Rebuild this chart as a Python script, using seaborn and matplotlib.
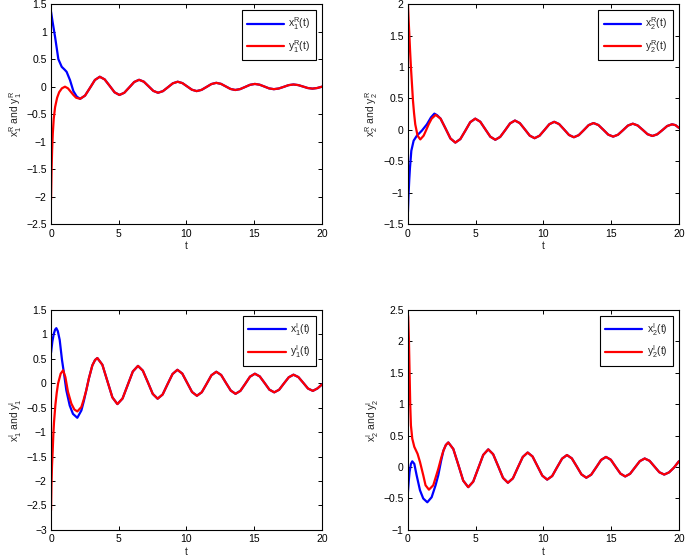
import matplotlib
matplotlib.use('Agg')
import matplotlib.pyplot as plt
import seaborn as sns
from matplotlib.ticker import FuncFormatter, MultipleLocator

# ---- panel 1: x1R / y1R ----
t_x1R = [0, 0.1, 0.3, 0.54, 0.79, 1.0, 1.15, 1.4, 1.65, 1.9]
x1R = [1.36, 1.2, 0.9, 0.5, 0.36, 0.31, 0.27, 0.12, -0.08, -0.18]
t_y1R = [0, 0.04, 0.08, 0.13, 0.2, 0.3, 0.45, 0.6, 0.8, 1.03, 1.25, 1.45, 1.65, 1.85]
y1R = [-2.05, -1.5, -1.15, -0.85, -0.58, -0.37, -0.2, -0.1, -0.03, 0.0, -0.03, -0.09, -0.15, -0.2]
t_tail1 = [2.15, 2.51, 2.88, 3.24, 3.6, 3.96, 4.33, 4.69, 5.05, 5.41, 5.78, 6.14,
           6.5, 6.85, 7.2, 7.55, 7.9, 8.26, 8.63, 8.99, 9.35, 9.7, 10.05, 10.4,
           10.75, 11.11, 11.48, 11.84, 12.2, 12.55, 12.9, 13.25, 13.6, 13.96, 14.33, 14.69,
           15.05, 15.4, 15.75, 16.1, 16.45, 16.81, 17.18, 17.54, 17.9, 18.25, 18.6, 18.95,
           19.3, 19.65, 20.0]
tail1 = [-0.22, -0.162, -0.02, 0.122, 0.18, 0.132, 0.015, -0.102, -0.15, -0.11, -0.012, 0.085,
         0.125, 0.091, 0.008, -0.076, -0.11, -0.081, -0.01, 0.061, 0.09, 0.065, 0.005, -0.055,
         -0.08, -0.058, -0.005, 0.048, 0.07, 0.051, 0.005, -0.041, -0.06, -0.044, -0.005, 0.034,
         0.05, 0.036, 0.003, -0.031, -0.045, -0.033, -0.003, 0.028, 0.04, 0.029, 0.003, -0.024,
         -0.035, -0.024, 0.0]

# ---- panel 2: x2R / y2R ----
t_x2R = [0, 0.05, 0.1, 0.15, 0.25, 0.42, 0.66, 1.03, 1.4, 1.7, 1.95, 2.15]
x2R = [-1.3, -1.0, -0.78, -0.6, -0.33, -0.17, -0.09, -0.01, 0.09, 0.2, 0.26, 0.235]
t_y2R = [0, 0.05, 0.1, 0.16, 0.22, 0.3, 0.37, 0.45, 0.54, 0.71, 0.91, 1.16, 1.35, 1.53, 1.75, 2.05]
y2R = [2.0, 1.75, 1.53, 1.25, 1.0, 0.72, 0.47, 0.27, 0.09, -0.09, -0.15, -0.09, 0.0, 0.09, 0.18, 0.24]
t_tail2 = [2.41, 2.78, 3.14, 3.5, 3.87, 4.24, 4.6, 4.97, 5.34, 5.71, 6.08,
           6.45, 6.81, 7.18, 7.54, 7.9, 8.26, 8.63, 8.99, 9.35, 9.71, 10.08, 10.44,
           10.8, 11.16, 11.53, 11.89, 12.25, 12.61, 12.98, 13.34, 13.7, 14.06, 14.43, 14.79,
           15.15, 15.51, 15.88, 16.24, 16.6, 16.96, 17.33, 17.69, 18.05, 18.41, 18.78, 19.14,
           19.5, 19.75, 20.0]
tail2 = [0.18, 0.022, -0.135, -0.2, -0.144, -0.01, 0.124, 0.18, 0.131, 0.012, -0.106,
         -0.155, -0.11, -0.003, 0.105, 0.15, 0.109, 0.01, -0.089, -0.13, -0.092, 0.0, 0.092,
         0.13, 0.094, 0.008, -0.079, -0.115, -0.082, -0.003, 0.077, 0.11, 0.079, 0.003, -0.074,
         -0.105, -0.075, -0.003, 0.07, 0.1, 0.072, 0.003, -0.067, -0.095, -0.068, -0.003, 0.063,
         0.09, 0.077, 0.035]

# ---- panel 3: x1I / y1I ----
t_x1I = [0, 0.1, 0.2, 0.3, 0.39, 0.5, 0.64, 0.81, 0.96, 1.13, 1.38, 1.62, 1.94, 2.24, 2.42]
x1I = [0.62, 0.85, 1.0, 1.09, 1.12, 1.06, 0.88, 0.47, 0.19, -0.15, -0.46, -0.63, -0.71, -0.56, -0.37]
t_y1I = [0, 0.03, 0.07, 0.12, 0.17, 0.22, 0.32, 0.42, 0.52, 0.71, 0.89, 1.06, 1.25, 1.5, 1.72, 1.94, 2.24, 2.42]
y1I = [-2.6, -2.1, -1.7, -1.4, -1.05, -0.8, -0.45, -0.2, -0.01, 0.19, 0.26, 0.12, -0.18, -0.42, -0.54, -0.58, -0.49, -0.33]
t_tail3 = [2.6, 2.8, 3.05, 3.25, 3.42, 3.79, 4.16, 4.53, 4.9, 5.28, 5.66, 6.04,
           6.42, 6.78, 7.15, 7.51, 7.87, 8.24, 8.6, 8.97, 9.33, 9.69, 10.05, 10.41,
           10.77, 11.13, 11.49, 11.84, 12.2, 12.56, 12.91, 13.27, 13.62, 13.98, 14.34, 14.69,
           15.05, 15.41, 15.77, 16.12, 16.48, 16.84, 17.19, 17.55, 17.9, 18.26, 18.62, 18.97,
           19.33, 19.67, 20.0]
tail3 = [-0.15, 0.1, 0.36, 0.47, 0.51, 0.373, 0.04, -0.293, -0.43, -0.316, -0.04, 0.236,
         0.35, 0.252, 0.015, -0.222, -0.32, -0.234, -0.025, 0.184, 0.27, 0.193, 0.005, -0.183,
         -0.26, -0.188, -0.015, 0.158, 0.23, 0.164, 0.005, -0.154, -0.22, -0.16, -0.015, 0.13,
         0.19, 0.135, 0.0, -0.135, -0.19, -0.137, -0.01, 0.117, 0.17, 0.122, 0.005, -0.112,
         -0.16, -0.11, -0.03]

# ---- panel 4: x2I / y2I ----
t_x2I = [0, 0.06, 0.12, 0.22, 0.32, 0.47, 0.64, 0.89, 1.13, 1.43, 1.75, 2.04, 2.24, 2.45]
x2I = [-0.4, -0.22, -0.08, 0.05, 0.09, 0.05, -0.13, -0.37, -0.5, -0.56, -0.48, -0.29, -0.13, 0.1]
t_y2I = [0, 0.02, 0.07, 0.12, 0.17, 0.22, 0.32, 0.47, 0.71, 0.89, 1.13, 1.3, 1.55, 1.87, 2.24, 2.45]
y2I = [2.42, 2.38, 2.04, 1.51, 0.98, 0.66, 0.45, 0.32, 0.21, 0.08, -0.13, -0.29, -0.36, -0.29, -0.03, 0.14]
t_tail4 = [2.62, 2.8, 2.98, 3.35, 3.72, 4.08, 4.45, 4.82, 5.19, 5.56, 5.93, 6.29, 6.66, 7.02,
           7.38, 7.75, 8.11, 8.48, 8.84, 9.2, 9.56, 9.92, 10.28, 10.65, 11.01, 11.38,
           11.74, 12.1, 12.46, 12.81, 13.17, 13.53, 13.9, 14.26, 14.62, 14.98, 15.33, 15.69,
           16.04, 16.4, 16.76, 17.12, 17.48, 17.84, 18.2, 18.56, 18.92, 19.28, 19.64, 20.0]
tail4 = [0.26, 0.35, 0.39, 0.286, 0.035, -0.216, -0.32, -0.232, -0.02, 0.192, 0.28, 0.203, 0.015, -0.173,
         -0.25, -0.18, -0.01, 0.16, 0.23, 0.167, 0.015, -0.137, -0.2, -0.143, -0.005, 0.133,
         0.19, 0.137, 0.01, -0.117, -0.17, -0.122, -0.005, 0.112, 0.16, 0.115, 0.005, -0.105,
         -0.15, -0.108, -0.0075, 0.093, 0.135, 0.098, 0.0075, -0.083, -0.12, -0.085, -0.01, 0.09]

x_ticks = [0, 5, 10, 15, 20]

panels = [
    (t_x1R, x1R, t_y1R, y1R, t_tail1, tail1, (-2.5, 1.5), '1', 'R'),
    (t_x2R, x2R, t_y2R, y2R, t_tail2, tail2, (-1.5, 2.0), '2', 'R'),
    (t_x1I, x1I, t_y1I, y1I, t_tail3, tail3, (-3.0, 1.5), '1', 'I'),
    (t_x2I, x2I, t_y2I, y2I, t_tail4, tail4, (-1.0, 2.5), '2', 'I'),
]

sns.set_theme(style='ticks')
plt.rcParams['font.family'] = ['Liberation Sans', 'DejaVu Sans']
plt.rcParams['mathtext.fontset'] = 'custom'
plt.rcParams['mathtext.rm'] = 'Liberation Sans'
plt.rcParams['axes.unicode_minus'] = True

fig, axes = plt.subplots(2, 2, figsize=(6.85, 5.59), dpi=100)
fig.subplots_adjust(left=0.0745, right=0.991, top=0.9928, bottom=0.0519,
                    wspace=0.3175, hspace=0.386)

fmt = FuncFormatter(lambda v, p: f'{v:g}'.replace('-', '\u2212'))

for ax, (tx, xv, ty, yv, tt, tv, ylim, idx, part) in zip(axes.flat, panels):
    sns.lineplot(x=tx + tt, y=xv + tv, ax=ax, color='blue', linewidth=1.6,
                 label=rf'$\mathregular{{x_{idx}^{part}(t)}}$')
    sns.lineplot(x=ty + tt, y=yv + tv, ax=ax, color='red', linewidth=1.6,
                 label=rf'$\mathregular{{y_{idx}^{part}(t)}}$')
    ax.set_xlim(0, 20)
    ax.set_ylim(*ylim)
    ax.set_xticks(x_ticks)
    ax.yaxis.set_major_locator(MultipleLocator(0.5))
    ax.yaxis.set_major_formatter(fmt)
    ax.xaxis.set_major_formatter(fmt)
    ax.tick_params(direction='in', length=3, width=0.7, top=True, right=True,
                   labelsize=7.5, pad=3, colors='black')
    for s in ax.spines.values():
        s.set_linewidth(0.8)
        s.set_color('black')
    ax.set_xlabel('t', fontsize=7.5, labelpad=2)
    ax.set_ylabel(rf'$\mathregular{{x_{idx}^{part}}}$ and $\mathregular{{y_{idx}^{part}}}$',
                  fontsize=7.5, labelpad=2)
    leg = ax.legend(loc='upper right', fontsize=7.5, frameon=True, fancybox=False,
                    edgecolor='black', framealpha=1, handlelength=3.6, handletextpad=0.4,
                    borderaxespad=0.6, labelspacing=0.55, borderpad=0.5)
    leg.get_frame().set_linewidth(0.8)

fig.savefig('out.png', dpi=100)
